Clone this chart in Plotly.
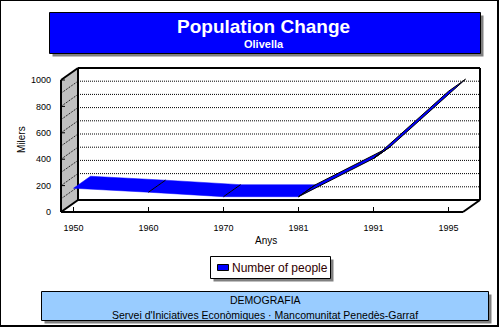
import plotly.graph_objects as go

# ---------------- data ----------------
years = ["1950", "1960", "1970", "1981", "1991", "1995"]
people = [180, 150, 116, 116, 405, 915]
y_tick_vals = [0, 200, 400, 600, 800, 1000]
grid_vals = [100, 200, 300, 400, 500, 600, 700, 800, 900]

title_main = "Population Change"
title_sub = "Olivella"
x_title = "Anys"
y_title = "Milers"
series_name = "Number of people"
footer_1 = "DEMOGRAFIA"
footer_2 = "Servei d'Iniciatives Econòmiques · Mancomunitat Penedès-Garraf"

# ---------------- geometry ----------------
W, H = 499, 327
L, R, T, B = 59, 16, 66, 112
PW, PH = W - L - R, H - T - B
CAT_PX = 75.0      # px per category
CAT0_PX = 73.5     # px of first category (front plane)
VAL_PX = 0.132     # px per value unit
ZERO_PY = 212.0    # px of value 0 (front plane)

X_RANGE = [(L - CAT0_PX) / CAT_PX, (W - R - CAT0_PX) / CAT_PX]
Y_RANGE = [(ZERO_PY - (H - B)) / VAL_PX, (ZERO_PY - T) / VAL_PX]
DX = 17 / CAT_PX          # depth offset in category units
DY = 12 / VAL_PX          # depth offset in value units
XL = (61 - CAT0_PX) / CAT_PX          # front-left edge
XR = XL + (len(years) - 1) + 0.36 + DX  # back-right edge
XRF = XR - DX                          # front-right edge
VMAX = max(y_tick_vals)


def pxx(x):
    return (x - L) / PW


def pyy(y):
    return (H - B - y) / PH


fig = go.Figure()
idx = list(range(len(years)))

# ribbon segments
for i in range(len(years) - 1):
    steep = abs(people[i + 1] - people[i]) > 150
    fig.add_trace(go.Scatter(
        x=[idx[i], idx[i + 1], idx[i + 1] + DX, idx[i] + DX, idx[i]],
        y=[people[i], people[i + 1], people[i + 1] + DY, people[i] + DY, people[i]],
        mode="lines", fill="toself", fillcolor="#0000FF",
        line=dict(color="#000000" if steep else "#0000FF", width=1 if steep else 0.5),
        showlegend=False, hoverinfo="skip"))
# creases
for i in range(1, len(years) - 1):
    fig.add_trace(go.Scatter(
        x=[idx[i], idx[i] + DX], y=[people[i], people[i] + DY],
        mode="lines", line=dict(color="#000000", width=1),
        showlegend=False, hoverinfo="skip"))

shapes = []
dot = "1px,1px"
# side wall
shapes.append(dict(type="path", xref="x", yref="y", layer="below",
                   path=f"M {XL},0 L {XL},{VMAX} L {XL+DX},{VMAX+DY} L {XL+DX},{DY} Z",
                   fillcolor="#C0C0C0", line=dict(width=0)))
# back wall gridlines + side diagonals
for v in grid_vals:
    shapes.append(dict(type="line", xref="x", yref="y", layer="below",
                       x0=XL + DX, x1=XR, y0=v + DY, y1=v + DY,
                       line=dict(color="#000000", width=1, dash=dot)))
    shapes.append(dict(type="line", xref="x", yref="y", layer="below",
                       x0=XL, x1=XL + DX, y0=v, y1=v + DY,
                       line=dict(color="#000000", width=1, dash=dot)))
# solid frame lines
solid = dict(color="#000000", width=2)
frame = [
    (XL, 0, XL, VMAX), (XL, VMAX, XL + DX, VMAX + DY),
    (XL + DX, VMAX + DY, XR, VMAX + DY), (XR, VMAX + DY, XR, DY),
    (XL + DX, VMAX + DY, XL + DX, DY), (XL + DX, DY, XR, DY),
    (XL, 0, XRF, 0), (XRF, 0, XR, DY), (XL, 0, XL + DX, DY),
]
for x0, y0, x1, y1 in frame:
    shapes.append(dict(type="line", xref="x", yref="y", layer="below",
                       x0=x0, y0=y0, x1=x1, y1=y1, line=solid))
# category tick marks on floor
for i in idx:
    shapes.append(dict(type="line", xref="x", yref="y", layer="below",
                       x0=i, x1=i, y0=0, y1=5 / VAL_PX,
                       line=dict(color="#000000", width=1)))
# value tick marks on side wall
for v in y_tick_vals[1:]:
    shapes.append(dict(type="line", xref="x", yref="y", layer="below",
                       x0=XL, x1=XL + 4 / CAT_PX, y0=v, y1=v,
                       line=dict(color="#000000", width=1)))


def box(x0, y0, x1, y1, fill, shadow=3):
    shapes.append(dict(type="rect", xref="paper", yref="paper", layer="above",
                       x0=pxx(x0 + shadow), x1=pxx(x1 + shadow),
                       y0=pyy(y0 + shadow), y1=pyy(y1 + shadow),
                       fillcolor="#808080", line=dict(width=0)))
    shapes.append(dict(type="rect", xref="paper", yref="paper", layer="above",
                       x0=pxx(x0), x1=pxx(x1), y0=pyy(y0), y1=pyy(y1),
                       fillcolor=fill, line=dict(color="#000000", width=1)))


box(49.5, 12.5, 480.5, 53.5, "#0000FF")
box(41.5, 291.5, 488.5, 320.5, "#99CCFF")
box(210.5, 256.5, 330.5, 278.5, "#FFFFFF")
# legend key
shapes.append(dict(type="rect", xref="paper", yref="paper", layer="above",
                   x0=pxx(217.5), x1=pxx(228.5), y0=pyy(264.5), y1=pyy(270.5),
                   fillcolor="#0000FF", line=dict(color="#000000", width=1)))
# outer border
shapes.append(dict(type="rect", xref="paper", yref="paper", layer="above",
                   x0=pxx(0), x1=pxx(498), y0=pyy(0), y1=pyy(326),
                   fillcolor="rgba(0,0,0,0)", line=dict(color="#000000", width=2)))

FONT = "Liberation Sans, Arial, sans-serif"
ann = []


def text(t, x, y, size, color="#000000", **kw):
    ann.append(dict(text=t, xref="paper", yref="paper", x=pxx(x), y=pyy(y),
                    xanchor="center", yanchor="middle", showarrow=False,
                    font=dict(family=FONT, size=size, color=color), **kw))


text(f"<b>{title_main}</b>", 263, 26.5, 19, "#FFFFFF")
text(f"<b>{title_sub}</b>", 264, 44, 11, "#FFFFFF")
text(x_title, 266, 240, 10)
text(y_title, 21, 140, 10, textangle=-90)
text(footer_1, 265, 300, 10.5)
text(footer_2, 265, 314.5, 10.5)
ann.append(dict(text=series_name, xref="paper", yref="paper", x=pxx(230), y=pyy(267.5),
                xanchor="left", yanchor="middle", showarrow=False,
                font=dict(family=FONT, size=12, color="#300000")))

fig.update_layout(
    width=W, height=H,
    margin=dict(l=L, r=R, t=T, b=B, pad=0),
    paper_bgcolor="#FFFFFF", plot_bgcolor="#FFFFFF",
    showlegend=False,
    shapes=shapes, annotations=ann,
    font=dict(family=FONT, size=9, color="#000000"),
    xaxis=dict(range=X_RANGE, tickmode="array", tickvals=idx, ticktext=years,
               showgrid=False, zeroline=False, showline=False, ticks="",
               ticklabelstandoff=6, tickfont=dict(size=9)),
    yaxis=dict(range=Y_RANGE, tickmode="array", tickvals=y_tick_vals,
               showgrid=False, zeroline=False, showline=False, ticks="",
               ticklabelstandoff=7, tickfont=dict(size=9)),
)

fig.write_html("out.html")
